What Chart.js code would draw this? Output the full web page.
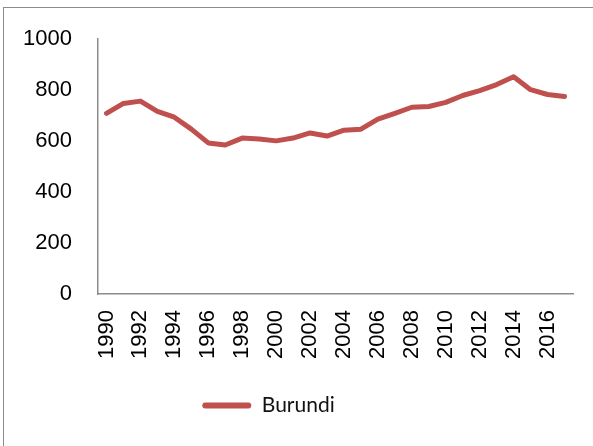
<!DOCTYPE html>
<html>
<head>
<meta charset="utf-8">
<script src="https://cdn.jsdelivr.net/npm/chart.js@4"></script>
<style>
    html, body { margin: 0; padding: 0; background: #fff; }
    #wrap { position: relative; width: 593px; height: 446px; overflow: hidden; }
    #frame { position: absolute; left: 3px; top: 7px; width: 620px; height: 500px; border: 1.5px solid #8c8c8c; }
    #chart { position: absolute; left: 0; top: 0; }
</style>
</head>
<body>
<div id="wrap">
    <div id="frame"></div>
    <canvas id="chart" width="593" height="446"></canvas>
</div>
<script>
// Datos del gráfico
const years = ['1990','1991','1992','1993','1994','1995','1996','1997','1998','1999',
               '2000','2001','2002','2003','2004','2005','2006','2007','2008','2009',
               '2010','2011','2012','2013','2014','2015','2016','2017'];
const burundi = [709, 748, 757, 717, 694, 647, 593, 585, 612, 608,
                 601, 612, 632, 620, 643, 647, 686, 709, 733, 736,
                 752, 779, 798, 822, 853, 802, 783, 775];
const yTicks = [0, 200, 400, 600, 800, 1000];

const lineColor = '#c0504d';
const axisColor = '#8c8c8c';

// Desplazar la leyenda un poco a la izquierda, como en el original
const legendShift = {
    id: 'legendShift',
    afterLayout(chart) {
        chart.legend.left -= 36;
    }
};

new Chart(document.getElementById('chart'), {
    type: 'line',
    data: {
        labels: years,
        datasets: [{
            label: 'Burundi',
            data: burundi,
            borderColor: lineColor,
            backgroundColor: lineColor,
            borderWidth: 5,
            pointRadius: 0,
            tension: 0,
            borderCapStyle: 'round',
            borderJoinStyle: 'round'
        }]
    },
    options: {
        responsive: false,
        animation: false,
        layout: {
            padding: { left: 0, right: 20, top: 36, bottom: 20 }
        },
        plugins: {
            legend: {
                position: 'bottom',
                labels: {
                    color: '#111',
                    font: { family: 'Lato', size: 21 },
                    padding: 9,
                    generateLabels: function(chart) {
                        return chart.data.datasets.map(function(ds, i) {
                            return {
                                text: ds.label,
                                fillStyle: ds.borderColor,
                                strokeStyle: ds.borderColor,
                                lineWidth: 0,
                                borderRadius: 3,
                                fontColor: '#111',
                                datasetIndex: i
                            };
                        });
                    },
                    boxWidth: 49,
                    boxHeight: 6,
                    useBorderRadius: true,
                    borderRadius: 3
                }
            },
            tooltip: { enabled: false }
        },
        scales: {
            x: {
                offset: true,
                grid: { display: false, drawTicks: false },
                border: { color: axisColor, width: 1.5 },
                afterFit: function(scale) {
                    scale.height = 92;
                    scale.paddingLeft = 0;
                    scale.paddingRight = 0;
                },
                ticks: {
                    autoSkip: false,
                    minRotation: 90,
                    maxRotation: 90,
                    padding: 16,
                    color: '#000',
                    font: { family: 'Liberation Sans', size: 22 },
                    callback: function(value, index) {
                        return index % 2 === 0 ? years[index] : '';
                    }
                }
            },
            y: {
                min: 0,
                max: 1000,
                grid: { display: false, drawTicks: false },
                border: { color: axisColor, width: 1.5 },
                afterFit: function(scale) { scale.width = 98; },
                afterBuildTicks: function(scale) {
                    scale.ticks = yTicks.map(function(v) { return { value: v }; });
                },
                ticks: {
                    padding: 26,
                    color: '#000',
                    font: { family: 'Liberation Sans', size: 22 },
                    callback: function(value) { return String(value); }
                }
            }
        }
    },
    plugins: [legendShift]
});
</script>
</body>
</html>
